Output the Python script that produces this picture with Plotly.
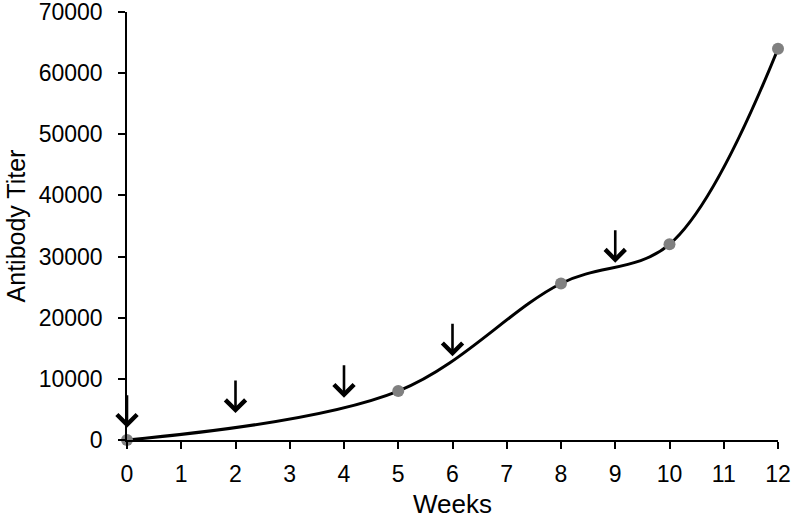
import plotly.graph_objects as go

weeks = [0, 5, 8, 10, 12]
titer = [0, 8000, 25600, 32000, 64000]
arrow_weeks = [0, 2, 4, 6, 9]
arrow_tips = [2000, 4400, 6900, 13700, 29000]
x_ticks = list(range(0, 13))
y_ticks = list(range(0, 70001, 10000))

fig = go.Figure()
fig.add_trace(go.Scatter(
    x=weeks, y=titer, mode="lines",
    line=dict(color="black", width=3, shape="spline", smoothing=1.0),
    showlegend=False, hoverinfo="skip", cliponaxis=False))
fig.add_trace(go.Scatter(
    x=weeks, y=titer, mode="markers",
    marker=dict(color="#808080", size=12),
    showlegend=False, cliponaxis=False))

for xw, yt in zip(arrow_weeks, arrow_tips):
    fig.add_annotation(
        x=xw, y=yt, xref="x", yref="y", ax=0, ay=-34, axref="pixel", ayref="pixel",
        text="", showarrow=True, arrowhead=4, arrowsize=1.5, arrowwidth=2.6,
        arrowcolor="black")

font_family = "Liberation Sans, Arial, sans-serif"
fig.update_layout(
    width=792, height=519,
    margin=dict(l=127, r=14, t=12, b=79),
    paper_bgcolor="white", plot_bgcolor="white",
    font=dict(family=font_family, color="black"),
    xaxis=dict(
        range=[0, 12], tickvals=x_ticks, ticktext=[str(v) for v in x_ticks],
        showgrid=False, zeroline=False, showline=True, linecolor="black", linewidth=1.5,
        ticks="outside", ticklen=7, tickwidth=1.5, tickcolor="black",
        ticklabelstandoff=6, automargin=False,
        tickfont=dict(size=23), title=dict(text="Weeks", font=dict(size=26), standoff=13)),
    yaxis=dict(
        range=[0, 70000], tickvals=y_ticks, ticktext=[str(v) for v in y_ticks],
        showgrid=False, zeroline=False, showline=True, linecolor="black", linewidth=1.5,
        ticks="outside", ticklen=7, tickwidth=1.5, tickcolor="black",
        ticklabelstandoff=11, ticklabeloverflow="allow", automargin=False,
        tickfont=dict(size=23), title=dict(text="Antibody Titer", font=dict(size=25), standoff=6)),
)

fig.write_html("out.html", config={"displayModeBar": False},
               post_script="document.body.style.margin='0px';document.body.style.overflow='hidden';")
